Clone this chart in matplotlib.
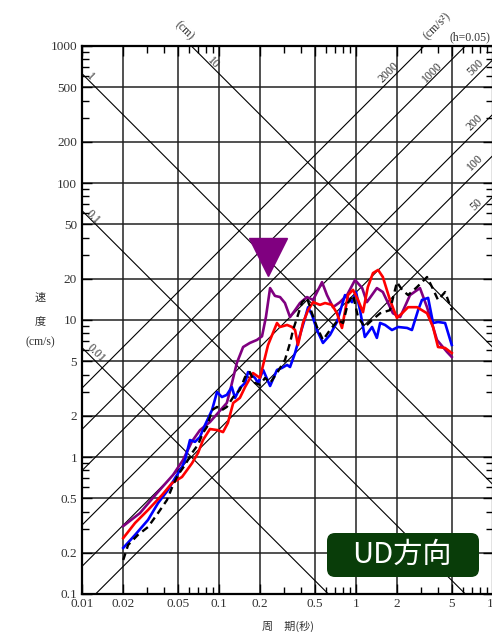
import numpy as np
import matplotlib
matplotlib.use('Agg')
import matplotlib.pyplot as plt
from matplotlib.patches import FancyBboxPatch
from matplotlib.ticker import LogLocator, NullFormatter, FixedLocator, FixedFormatter

# ---- data (period [s], velocity [cm/s]) ----
purple_T = [0.020, 0.0265, 0.0353, 0.0462, 0.0546, 0.0635, 0.0726, 0.0859, 0.0984, 0.114, 0.120,
            0.135, 0.150, 0.168, 0.189, 0.206, 0.220, 0.236, 0.256, 0.279, 0.303, 0.330, 0.359,
            0.390, 0.439, 0.486, 0.565, 0.614, 0.679, 0.764, 0.860, 0.984, 1.11, 1.20, 1.42,
            1.57, 1.86, 2.10, 2.48, 2.93, 3.30, 3.90, 4.62, 5.0]
purple_V = [0.313, 0.39, 0.546, 0.74, 0.95, 1.30, 1.57, 1.80, 2.10, 2.48, 3.0,
            4.86, 6.35, 6.8, 7.15, 7.6, 10.5, 17.1, 15.0, 14.7, 13.3, 10.5, 11.8,
            13.3, 14.7, 14.0, 18.9, 15.2, 12.4, 13.5, 15.2, 19.6, 17.1, 13.5, 17.1,
            16.0, 11.2, 10.5, 15.2, 17.1, 12.4, 7.15, 5.84, 5.37]

red_T = [0.020, 0.0244, 0.0303, 0.0384, 0.0454, 0.0537, 0.0635, 0.0703, 0.0764, 0.0859, 0.0984,
         0.107, 0.116, 0.127, 0.142, 0.155, 0.177, 0.199, 0.217, 0.228, 0.265, 0.279, 0.314,
         0.341, 0.359, 0.377, 0.410, 0.447, 0.486, 0.546, 0.594, 0.668, 0.726, 0.790, 0.874,
         0.951, 1.035, 1.125, 1.22, 1.33, 1.45, 1.57, 1.77, 1.99, 2.17, 2.40, 2.79, 3.30,
         3.65, 3.97, 4.47, 5.0]
red_V = [0.256, 0.33, 0.41, 0.528, 0.645, 0.715, 0.90, 1.07, 1.33, 1.60, 1.57,
         1.52, 1.77, 2.48, 2.70, 3.24, 4.10, 3.78, 5.37, 6.57, 9.51, 8.89, 9.20,
         8.89, 8.45, 6.57, 9.51, 11.8, 13.5, 12.9, 13.3, 12.9, 11.2, 8.75, 15.2,
         16.6, 14.0, 11.4, 17.4, 22.0, 23.2, 20.6, 14.0, 10.35, 11.2, 12.4, 12.4, 11.2,
         8.89, 6.35, 6.25, 5.74]

blue_T = [0.020, 0.0244, 0.0303, 0.0359, 0.0424, 0.0477, 0.0537, 0.0565, 0.0614, 0.0668, 0.0726,
          0.079, 0.0889, 0.0967, 0.105, 0.114, 0.124, 0.131, 0.142, 0.155, 0.163, 0.183,
          0.193, 0.210, 0.236, 0.265, 0.288, 0.314, 0.330, 0.359, 0.390, 0.425, 0.447, 0.477,
          0.519, 0.574, 0.646, 0.726, 0.831, 0.935, 1.00, 1.07, 1.16, 1.31, 1.42, 1.50,
          1.63, 1.83, 2.03, 2.36, 2.56, 2.84, 3.03, 3.36, 3.65, 3.97, 4.47, 5.0]
blue_V = [0.217, 0.27, 0.347, 0.461, 0.574, 0.70, 0.845, 0.95, 1.33, 1.29, 1.40,
          1.71, 2.20, 2.98, 2.74, 2.84, 3.24, 2.70, 3.19, 3.47, 4.17, 3.78,
          3.47, 4.32, 3.30, 4.32, 4.47, 4.70, 4.54, 5.74, 7.78, 10.35, 12.4, 10.9,
          8.45, 6.80, 7.78, 9.67, 15.2, 13.5, 16.0, 11.8, 7.52, 8.89, 7.40, 9.51,
          9.20, 8.45, 8.89, 8.75, 8.45, 11.8, 14.0, 14.5, 9.51, 9.67, 9.51, 6.57]

black_T = [0.020, 0.0217, 0.0256, 0.0303, 0.0359, 0.0417, 0.0462, 0.0502, 0.0565, 0.0635, 0.0703,
           0.0764, 0.0817, 0.0889, 0.0967, 0.105, 0.114, 0.127, 0.142, 0.155, 0.168, 0.183,
           0.199, 0.217, 0.236, 0.265, 0.303, 0.330, 0.347, 0.371, 0.404, 0.439, 0.477, 0.519,
           0.574, 0.646, 0.739, 0.804, 0.874, 0.951, 1.035, 1.16, 1.31, 1.50, 1.77, 1.99,
           2.17, 2.40, 2.79, 3.30, 3.59, 3.97, 4.47, 5.0]
black_V = [0.177, 0.228, 0.27, 0.308, 0.39, 0.485, 0.625, 0.74, 0.875, 1.07, 1.23,
           1.50, 1.66, 2.20, 2.32, 2.20, 2.32, 2.74, 3.09, 3.84, 4.17, 3.47,
           3.36, 3.78, 3.47, 4.10, 5.11, 6.80, 8.45, 10.35, 13.5, 14.5, 11.2, 8.89,
           7.15, 8.45, 10.0, 9.51, 13.3, 15.2, 10.5, 8.89, 10.0, 11.2, 11.8, 18.9,
           16.6, 15.2, 17.4, 20.6, 17.4, 14.0, 16.0, 11.8]

disp_levels = [0.01, 0.1, 1, 10]              # cm
acc_levels = [50, 100, 200, 500, 1000, 2000]  # cm/s^2
marker_T, marker_V = 0.228, 28.6

x_ticks = [0.01, 0.02, 0.05, 0.1, 0.2, 0.5, 1, 2, 5, 10]
x_labels = ['0.01', '0.02', '0.05', '0.1', '0.2', '0.5', '1', '2', '5', '10']
y_ticks = [0.1, 0.2, 0.5, 1, 2, 5, 10, 20, 50, 100, 200, 500, 1000]
y_labels = ['0.1', '0.2', '0.5', '1', '2', '5', '10', '20', '50', '100', '200', '500', '1000']

W, H = 492, 632
serif = 'Liberation Serif'
cjk = ['Noto Sans CJK JP', 'DejaVu Sans']
tcol = '#333333'

fig = plt.figure(figsize=(W / 100, H / 100), dpi=100)
ax = fig.add_axes([82 / W, 38 / H, (493 - 82) / W, (594 - 46) / H])
ax.set_xscale('log')
ax.set_yscale('log')
ax.set_xlim(0.01, 10)
ax.set_ylim(0.1, 1000)

# grid
for t in x_ticks[1:-1]:
    ax.axvline(t, color='#222222', lw=1.1, zorder=1)
for v in y_ticks[1:-1]:
    ax.axhline(v, color='#222222', lw=1.1, zorder=1)

# tripartite lines
Tline = np.array([0.005, 20.0])
for d in disp_levels:
    ax.plot(Tline, 2 * np.pi * d / Tline, color='black', lw=0.8, zorder=1)
for a in acc_levels:
    ax.plot(Tline, a * Tline / (2 * np.pi), color='black', lw=0.8, zorder=1)

# spectra
ax.plot(purple_T, purple_V, color='#800080', lw=1.9, zorder=3)
ax.plot(blue_T, blue_V, color='#0000ff', lw=1.9, zorder=3)
ax.plot(red_T, red_V, color='#ff0000', lw=1.9, zorder=3)
ax.plot(black_T, black_V, color='black', lw=1.7, ls=(0, (3, 2)), zorder=4)

ax.plot([marker_T], [marker_V], marker='v', ms=27, color='#800080', zorder=5, clip_on=False)

# ticks
ax.xaxis.set_major_locator(FixedLocator(x_ticks))
ax.xaxis.set_major_formatter(FixedFormatter(x_labels))
ax.yaxis.set_major_locator(FixedLocator(y_ticks))
ax.yaxis.set_major_formatter(FixedFormatter(y_labels))
ax.xaxis.set_minor_locator(LogLocator(base=10, subs=np.arange(2, 10)))
ax.yaxis.set_minor_locator(LogLocator(base=10, subs=np.arange(2, 10)))
ax.xaxis.set_minor_formatter(NullFormatter())
ax.yaxis.set_minor_formatter(NullFormatter())
ax.tick_params(which='both', direction='in', top=True, right=True, width=1.0, color='black')
ax.tick_params(which='major', length=7)
ax.tick_params(which='minor', length=5)
ax.tick_params(axis='y', pad=3.5, labelsize=9.5, labelcolor=tcol)
ax.tick_params(axis='x', pad=3, labelsize=9.5, labelcolor=tcol)
for lab in ax.get_xticklabels() + ax.get_yticklabels():
    lab.set_fontfamily(serif)
for s in ax.spines.values():
    s.set_linewidth(1.6)


def fx(px):
    return px / W


def fy(py):
    return 1 - py / H


# line labels
kw = dict(fontfamily=serif, fontsize=8.5, color=tcol, ha='center', va='center')
fig.text(fx(184), fy(31), '(cm)', rotation=-45, **kw)
fig.text(fx(90), fy(77), '1', rotation=-45, **kw)
fig.text(fx(213), fy(63), '10', rotation=-45, **kw)
fig.text(fx(93), fy(217), '0.1', rotation=-45, **kw)
fig.text(fx(96), fy(353), '0.01', rotation=-45, **kw)
fig.text(fx(437), fy(26), '(cm/s²)', rotation=45, **kw)
fig.text(fx(470), fy(37), '(h=0.05)', rotation=0, **kw)
fig.text(fx(389), fy(72), '2000', rotation=45, **kw)
fig.text(fx(432), fy(72), '1000', rotation=45, **kw)
fig.text(fx(475), fy(68), '500', rotation=45, **kw)
fig.text(fx(475), fy(123), '200', rotation=45, **kw)
fig.text(fx(475), fy(163), '100', rotation=45, **kw)
fig.text(fx(476), fy(205), '50', rotation=45, **kw)

# axis labels
fig.text(fx(40), fy(298), '速', fontfamily=cjk, fontsize=8, color=tcol, ha='center', va='center')
fig.text(fx(40), fy(321), '度', fontfamily=cjk, fontsize=8, color=tcol, ha='center', va='center')
fig.text(fx(40), fy(342), '(cm/s)', fontfamily=serif, fontsize=8.5, color=tcol, ha='center', va='center')
fig.text(fx(288), fy(626), '周　期(秒)', fontfamily=cjk, fontsize=8, color=tcol, ha='center', va='center')

# UD box
box = FancyBboxPatch((3.27, (H - 577) / 100), 1.52, 0.44,
                     boxstyle='round,pad=0,rounding_size=0.08',
                     transform=fig.dpi_scale_trans, facecolor='#093d09',
                     edgecolor='none', zorder=10)
fig.patches.append(box)
fig.text(fx(402), fy(555), 'UD方向', fontfamily=cjk, fontsize=21, color='white',
         ha='center', va='center', zorder=11)

fig.savefig('out.png', dpi=100)
